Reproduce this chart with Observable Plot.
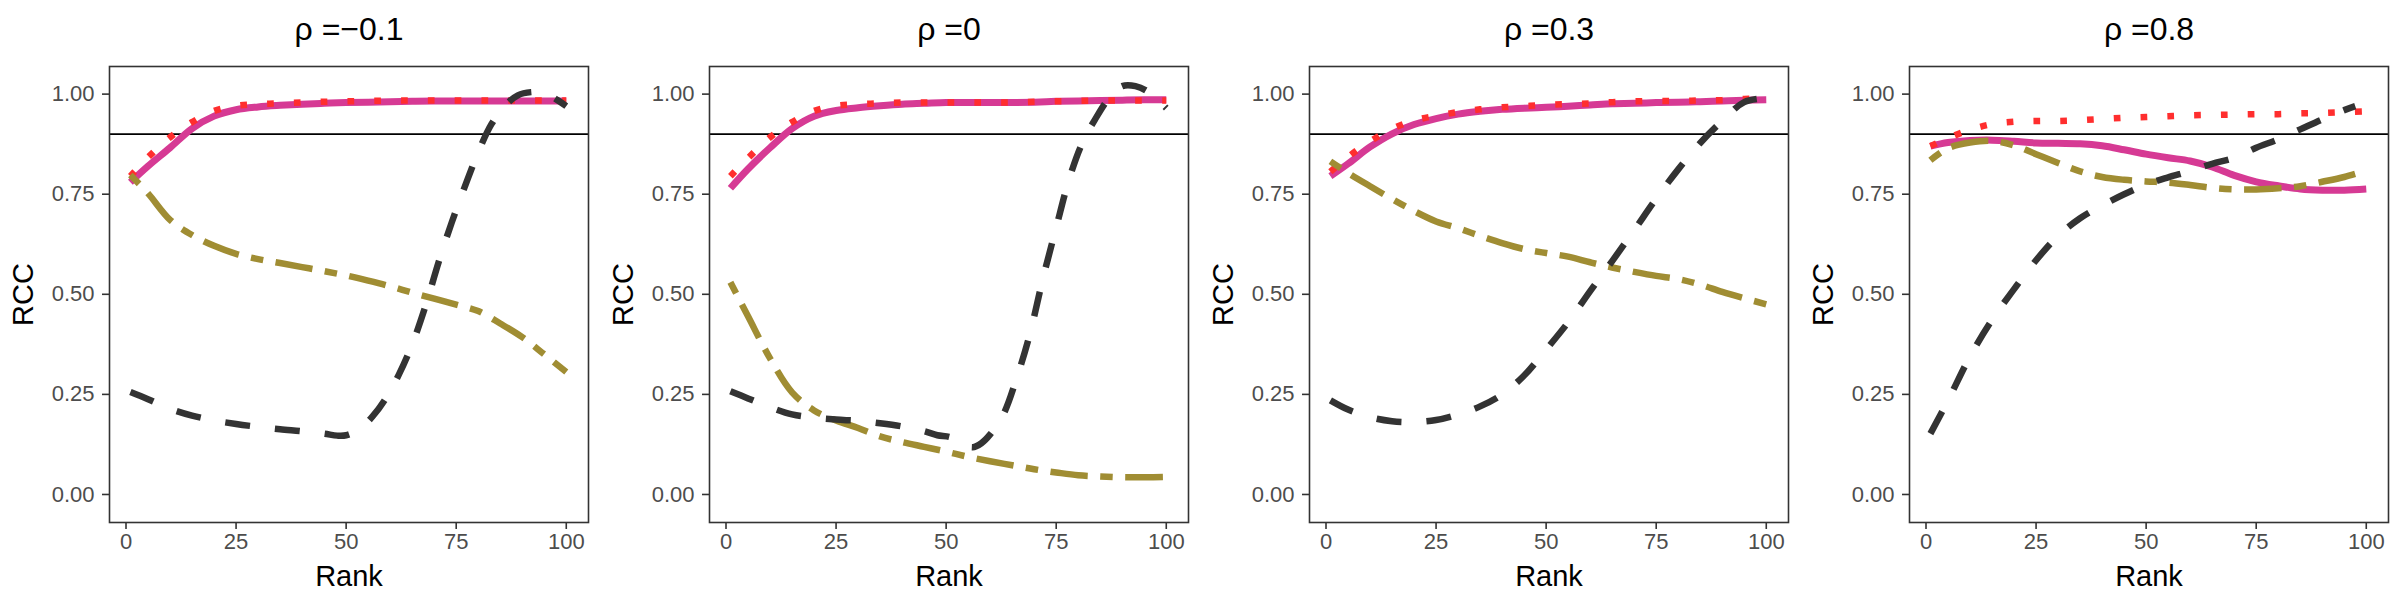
<!DOCTYPE html>
<html>
<head>
<meta charset="utf-8">
<script src="https://cdn.jsdelivr.net/npm/d3@7"></script>
<script src="https://cdn.jsdelivr.net/npm/@observablehq/plot@0.6"></script>
<style>
  html, body { margin: 0; padding: 0; background: #ffffff; }
  #row { display: flex; flex-direction: row; width: 2400px; height: 600px; }
  #row > svg, #row > figure { flex: 0 0 600px; margin: 0; }
</style>
</head>
<body>
<div id="row"></div>
<script>
// ---------- data ----------
const panelTitles = ["ρ =−0.1", "ρ =0", "ρ =0.3", "ρ =0.8"];
const xTicks = [0, 25, 50, 75, 100];
const yTicks = [0, 0.25, 0.5, 0.75, 1];
const hline = 0.9;

// common rank grid
const ranks = [1, 5, 10, 15, 20, 25, 30, 35, 40, 45, 50, 55, 60, 65, 70, 75, 80, 85, 90, 95, 100];

// panel 1 (rho = -0.1)
const solid1  = [0.780, 0.820, 0.866, 0.914, 0.945, 0.961, 0.968, 0.972, 0.975, 0.977, 0.979, 0.980, 0.981, 0.982, 0.983, 0.983, 0.983, 0.983, 0.983, 0.983, 0.983];
const dotted1 = [0.795, 0.842, 0.892, 0.930, 0.958, 0.971, 0.975, 0.977, 0.979, 0.981, 0.982, 0.983, 0.984, 0.984, 0.984, 0.984, 0.984, 0.984, 0.984, 0.984, 0.984];
const twodash1 = [0.798, 0.752, 0.686, 0.648, 0.621, 0.601, 0.588, 0.578, 0.568, 0.558, 0.547, 0.534, 0.520, 0.504, 0.489, 0.474, 0.458, 0.427, 0.393, 0.350, 0.306];
const dashedRanks1 = [1, 5, 10, 15, 20, 25, 30, 35, 40, 45, 48, 50, 53, 56, 59, 62, 65, 68, 71, 74, 77, 80, 83, 86, 89, 92, 95, 98, 100];
const dashed1 = [0.256, 0.238, 0.214, 0.197, 0.185, 0.176, 0.169, 0.163, 0.158, 0.152, 0.147, 0.148, 0.163, 0.195, 0.240, 0.300, 0.375, 0.470, 0.580, 0.680, 0.770, 0.855, 0.925, 0.970, 0.997, 1.005, 1.003, 0.985, 0.970];

// panel 2 (rho = 0)
const solid2  = [0.765, 0.813, 0.866, 0.914, 0.945, 0.959, 0.966, 0.971, 0.975, 0.977, 0.979, 0.979, 0.979, 0.979, 0.980, 0.982, 0.983, 0.984, 0.985, 0.986, 0.986];
const dotted2 = [0.795, 0.840, 0.892, 0.930, 0.958, 0.971, 0.975, 0.977, 0.979, 0.979, 0.979, 0.979, 0.979, 0.979, 0.981, 0.982, 0.983, 0.984, 0.984, 0.984, 0.984];
const twodash2 = [0.530, 0.445, 0.340, 0.255, 0.210, 0.185, 0.166, 0.145, 0.131, 0.119, 0.107, 0.094, 0.083, 0.073, 0.063, 0.055, 0.048, 0.045, 0.043, 0.043, 0.044];
const dashedRanks2 = [1, 5, 10, 15, 20, 25, 30, 35, 40, 45, 48, 51, 54, 56, 58, 60, 63, 66, 69, 72, 75, 78, 81, 84, 87, 90, 93, 96, 100];
const dashed2 = [0.258, 0.240, 0.218, 0.200, 0.192, 0.187, 0.184, 0.178, 0.170, 0.158, 0.148, 0.143, 0.125, 0.118, 0.128, 0.150, 0.200, 0.290, 0.400, 0.540, 0.667, 0.790, 0.880, 0.940, 0.990, 1.020, 1.020, 1.005, 0.965];

// panel 3 (rho = 0.3)
const solid3  = [0.795, 0.826, 0.868, 0.901, 0.924, 0.939, 0.950, 0.957, 0.962, 0.965, 0.967, 0.970, 0.973, 0.976, 0.977, 0.979, 0.980, 0.981, 0.983, 0.985, 0.986];
const dotted3 = [0.806, 0.843, 0.882, 0.913, 0.934, 0.946, 0.955, 0.962, 0.967, 0.970, 0.973, 0.975, 0.977, 0.980, 0.982, 0.983, 0.983, 0.984, 0.985, 0.988, 0.989];
const twodash3 = [0.832, 0.803, 0.770, 0.738, 0.708, 0.682, 0.665, 0.646, 0.628, 0.613, 0.603, 0.594, 0.580, 0.567, 0.556, 0.546, 0.538, 0.524, 0.506, 0.490, 0.475];
const dashed3 = [0.235, 0.212, 0.193, 0.183, 0.181, 0.186, 0.200, 0.220, 0.250, 0.297, 0.362, 0.430, 0.508, 0.583, 0.660, 0.739, 0.812, 0.878, 0.933, 0.980, 0.990];

// panel 4 (rho = 0.8)
const solid4  = [0.870, 0.879, 0.884, 0.885, 0.882, 0.878, 0.877, 0.876, 0.871, 0.861, 0.850, 0.841, 0.833, 0.818, 0.797, 0.781, 0.771, 0.763, 0.760, 0.760, 0.763];
const dotted4 = [0.870, 0.890, 0.911, 0.925, 0.931, 0.933, 0.933, 0.935, 0.938, 0.941, 0.943, 0.945, 0.947, 0.948, 0.949, 0.950, 0.950, 0.952, 0.953, 0.955, 0.957];
const twodash4 = [0.835, 0.865, 0.879, 0.883, 0.872, 0.850, 0.828, 0.807, 0.793, 0.786, 0.782, 0.779, 0.773, 0.766, 0.762, 0.762, 0.765, 0.770, 0.781, 0.793, 0.809];
const dashedRanks4 = [1, 5, 10, 15, 20, 25, 30, 35, 40, 45, 50, 55, 60, 65, 70, 75, 80, 85, 90, 95, 97.5];
const dashed4 = [0.152, 0.235, 0.345, 0.436, 0.513, 0.585, 0.646, 0.690, 0.722, 0.750, 0.774, 0.792, 0.808, 0.826, 0.841, 0.866, 0.887, 0.912, 0.937, 0.960, 0.970];

// ---------- assembly ----------
const panels = [
  {title: panelTitles[0], solid: solid1, dotted: dotted1, twodash: twodash1, dashed: dashed1, dashedRanks: dashedRanks1},
  {title: panelTitles[1], solid: solid2, dotted: dotted2, twodash: twodash2, dashed: dashed2, dashedRanks: dashedRanks2},
  {title: panelTitles[2], solid: solid3, dotted: dotted3, twodash: twodash3, dashed: dashed3, dashedRanks: ranks},
  {title: panelTitles[3], solid: solid4, dotted: dotted4, twodash: twodash4, dashed: dashed4, dashedRanks: dashedRanks4}
];

const toRows = (xs, ys) => xs.map((r, i) => ({rank: r, rcc: ys[i]}));

const FONT = "'Liberation Sans', Arial, Helvetica, sans-serif";
const common = {x: "rank", y: "rcc", curve: "catmull-rom", strokeLinecap: "butt", strokeLinejoin: "round"};

const row = document.getElementById("row");
for (const p of panels) {
  const chart = Plot.plot({
    width: 600,
    height: 600,
    marginLeft: 109,
    marginRight: 12,
    marginTop: 66,
    marginBottom: 78,
    x: {domain: [-3.75, 105.05]},
    y: {domain: [-0.07, 1.069]},
    style: {fontFamily: FONT, background: "#ffffff", overflow: "visible"},
    marks: [
      Plot.ruleY([hline], {stroke: "#000000", strokeWidth: 1.8}),
      Plot.line(toRows(ranks, p.solid), {...common, stroke: "#D63A94", strokeWidth: 7}),
      Plot.line(toRows(ranks, p.dotted), {...common, stroke: "#FF2E2E", strokeWidth: 6.5, strokeDasharray: "6.7,20.1"}),
      Plot.line(toRows(ranks, p.twodash), {...common, stroke: "#A08D33", strokeWidth: 6.5, strokeDasharray: "12.5,12.5,37.5,12.5"}),
      Plot.line(toRows(p.dashedRanks, p.dashed), {...common, stroke: "#333333", strokeWidth: 6.5, strokeDasharray: "25,25"}),
      Plot.frame({stroke: "#333333", strokeWidth: 1.6}),
      Plot.axisX({ticks: xTicks, tickSize: 7, tickPadding: 4, fontSize: 22, fill: "#4D4D4D", stroke: "#333333", strokeWidth: 1.6, label: null}),
      Plot.axisY({ticks: yTicks, tickFormat: d3.format(".2f"), tickSize: 7, tickPadding: 8, fontSize: 22, fill: "#4D4D4D", stroke: "#333333", strokeWidth: 1.6, label: null}),
      Plot.text([p.title], {text: d => d, frameAnchor: "top", dy: -37, lineAnchor: "middle", textAnchor: "middle", fontSize: 32, fill: "#000000"}),
      Plot.text(["Rank"], {text: d => d, frameAnchor: "bottom", dy: 54, lineAnchor: "middle", textAnchor: "middle", fontSize: 29, fill: "#000000"}),
      Plot.text(["RCC"], {text: d => d, frameAnchor: "left", dx: -86, rotate: -90, lineAnchor: "middle", textAnchor: "middle", fontSize: 29, fill: "#000000"})
    ]
  });
  row.appendChild(chart);
}
</script>
</body>
</html>
